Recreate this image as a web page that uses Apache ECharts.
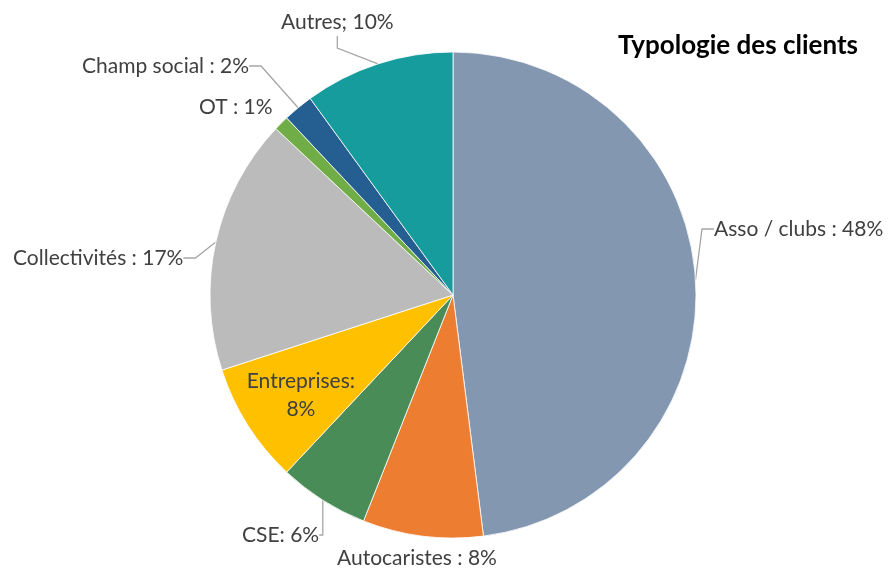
<!DOCTYPE html>
<html>
<head>
<meta charset="utf-8">
<script src="https://cdn.jsdelivr.net/npm/echarts@6/dist/echarts.min.js"></script>
<style>
  html, body { margin: 0; padding: 0; background: #fff; }
  #chart { width: 894px; height: 569px; }
</style>
</head>
<body>
<div id="chart"></div>
<script>
// Client types and their shares (%), clockwise from 12 o'clock
const categories = ['Asso / clubs', 'Autocaristes', 'CSE', 'Entreprises', 'Collectivités', 'OT', 'Champ social', 'Autres'];
const shares = [48, 8, 6, 8, 17, 1, 2, 10];
const labelTexts = ['Asso / clubs : 48%', 'Autocaristes : 8%', 'CSE: 6%', 'Entreprises:\n8%', 'Collectivités : 17%', 'OT : 1%', 'Champ social : 2%', 'Autres; 10%'];
const colors = ['#8497B0', '#ED7D31', '#4A8C57', '#FFC000', '#BBBBBB', '#70AD47', '#255E91', '#179C9E'];

// Label anchor spots (left edge, vertical middle) for the outside labels
const labelSpots = {
  0: [714, 229],
  1: [337, 558],
  2: [242, 535],
  4: [13, 258],
  5: [199, 107],
  6: [82, 66],
  7: [281, 22]
};

const chart = echarts.init(document.getElementById('chart'));
chart.setOption({
  animation: false,
  title: {
    text: 'Typologie des clients',
    right: 31,
    top: 28,
    textStyle: { fontFamily: 'Lato', fontWeight: 'bold', fontSize: 26, color: '#000' }
  },
  series: [{
    type: 'pie',
    center: [453, 295],
    radius: [0, 243],
    startAngle: 90,
    clockwise: true,
    avoidLabelOverlap: false,
    itemStyle: { borderColor: '#fff', borderWidth: 0.8 },
    label: {
      fontFamily: 'Lato',
      fontSize: 21,
      color: '#404040',
      lineHeight: 28
    },
    labelLine: {
      show: true,
      length: 10,
      length2: 12,
      lineStyle: { color: '#A6A6A6', width: 1.3 }
    },
    labelLayout: function (p) {
      const s = labelSpots[p.dataIndex];
      if (!s) return {};
      return { x: s[0], y: s[1], align: 'left', verticalAlign: 'middle' };
    },
    data: categories.map((c, i) => {
      const d = {
        name: c,
        value: shares[i],
        itemStyle: { color: colors[i] },
        label: { formatter: labelTexts[i] }
      };
      if (i === 3) {
        d.label.position = 'inside';
        d.label.align = 'center';
        d.label.offset = [-47, 34];
        d.labelLine = { show: false };
      }
      if (i === 1 || i === 5) {
        d.labelLine = { show: false };
      }
      return d;
    })
  }]
});
</script>
</body>
</html>
